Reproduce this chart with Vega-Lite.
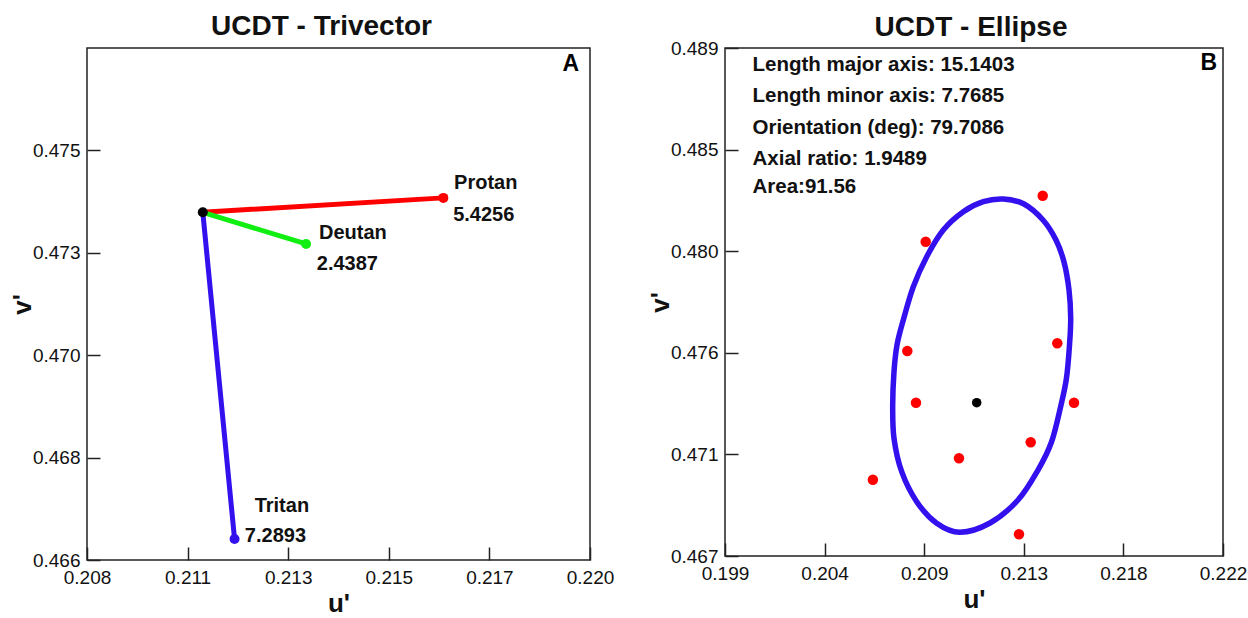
{
  "$schema": "https://vega.github.io/schema/vega-lite/v6.json",
  "background": "white",
  "padding": {"left": 8, "top": 12, "right": 5, "bottom": 0},
  "bounds": "flush",
  "spacing": 135,
  "config": {
    "font": "Liberation Sans",
    "view": {"stroke": "#222", "strokeWidth": 1.5},
    "axis": {
      "grid": false,
      "domain": false,
      "offset": -13,
      "tickColor": "#222",
      "tickWidth": 1.5,
      "tickSize": 13,
      "labelFont": "Liberation Sans",
      "labelFontSize": 19,
      "labelColor": "#111",
      "titleFont": "Liberation Sans",
      "titleFontSize": 26,
      "titleFontWeight": "bold",
      "titleColor": "#111",
      "labelOverlap": false,
      "labelFlush": false,
      "labelBound": false
    },
    "axisX": {"labelPadding": 8, "titlePadding": 3},
    "axisY": {"labelPadding": 7, "titlePadding": -3},
    "title": {"fontSize": 28, "fontWeight": "bold", "font": "Liberation Sans", "color": "#111", "offset": 7}
  },
  "datasets": {
    "centerA": [{"u": 0.21099, "v": 0.47347}],
    "vectors": [
      {"type": "Protan", "u0": 0.21099, "v0": 0.47347, "u1": 0.21637, "v1": 0.47378},
      {"type": "Deutan", "u0": 0.21099, "v0": 0.47347, "u1": 0.21330, "v1": 0.47279},
      {"type": "Tritan", "u0": 0.21099, "v0": 0.47347, "u1": 0.21170, "v1": 0.46645}
    ],
    "labelsA": [
      {"t": "Protan", "u": 0.21661, "v": 0.47409},
      {"t": "5.4256", "u": 0.21659, "v": 0.47342},
      {"t": "Deutan", "u": 0.21359, "v": 0.47302},
      {"t": "2.4387", "u": 0.21354, "v": 0.47235},
      {"t": "Tritan", "u": 0.21215, "v": 0.46717},
      {"t": "7.2893", "u": 0.21193, "v": 0.46651}
    ],
    "cornerA": [{"t": "A", "u": 0.21922, "v": 0.47666}],
    "cornerB": [{"t": "B", "u": 0.22134, "v": 0.48835}],
    "ellipse": [
      {"i": 1, "u": 0.210930, "v": 0.482344},
      {"i": 2, "u": 0.211853, "v": 0.482461},
      {"i": 3, "u": 0.212809, "v": 0.482244},
      {"i": 4, "u": 0.213687, "v": 0.481551},
      {"i": 5, "u": 0.214287, "v": 0.480685},
      {"i": 6, "u": 0.214657, "v": 0.479732},
      {"i": 7, "u": 0.214888, "v": 0.478520},
      {"i": 8, "u": 0.214966, "v": 0.477307},
      {"i": 9, "u": 0.214911, "v": 0.476138},
      {"i": 10, "u": 0.214772, "v": 0.474709},
      {"i": 11, "u": 0.214518, "v": 0.473539},
      {"i": 12, "u": 0.214079, "v": 0.471937},
      {"i": 13, "u": 0.213456, "v": 0.470724},
      {"i": 14, "u": 0.212532, "v": 0.469425},
      {"i": 15, "u": 0.211239, "v": 0.468429},
      {"i": 16, "u": 0.209853, "v": 0.468026},
      {"i": 17, "u": 0.208777, "v": 0.468416},
      {"i": 18, "u": 0.207854, "v": 0.469352},
      {"i": 19, "u": 0.207161, "v": 0.470651},
      {"i": 20, "u": 0.206805, "v": 0.472097},
      {"i": 21, "u": 0.206745, "v": 0.473539},
      {"i": 22, "u": 0.206805, "v": 0.474982},
      {"i": 23, "u": 0.206944, "v": 0.476138},
      {"i": 24, "u": 0.207235, "v": 0.477220},
      {"i": 25, "u": 0.207697, "v": 0.478663},
      {"i": 26, "u": 0.208316, "v": 0.479962},
      {"i": 27, "u": 0.209082, "v": 0.481118},
      {"i": 28, "u": 0.210006, "v": 0.481911}
    ],
    "redpts": [
      {"u": 0.213673, "v": 0.482604},
      {"u": 0.208269, "v": 0.480611},
      {"u": 0.207420, "v": 0.475878},
      {"u": 0.214347, "v": 0.476211},
      {"u": 0.207821, "v": 0.473639},
      {"u": 0.215119, "v": 0.473639},
      {"u": 0.213119, "v": 0.471924},
      {"u": 0.209807, "v": 0.471231},
      {"u": 0.205830, "v": 0.470300},
      {"u": 0.212578, "v": 0.467940}
    ],
    "centerB": [{"u": 0.210625, "v": 0.473639}],
    "infoB": [
      {"t": "Length major axis: 15.1403", "u": 0.20027, "v": 0.48827},
      {"t": "Length minor axis: 7.7685", "u": 0.20027, "v": 0.48690},
      {"t": "Orientation (deg): 79.7086", "u": 0.20027, "v": 0.48553},
      {"t": "Axial ratio: 1.9489", "u": 0.20027, "v": 0.48420},
      {"t": "Area:91.56", "u": 0.20027, "v": 0.48300}
    ]
  },
  "hconcat": [
    {
      "width": 503,
      "height": 512,
      "title": {"text": "UCDT - Trivector", "dx": -17},
      "encoding": {
        "x": {"type": "quantitative", "scale": {"domain": [0.2084, 0.21965], "nice": false, "zero": false},
              "axis": {"values": [0.2084, 0.21065, 0.2129, 0.21515, 0.2174, 0.21965], "format": ".3f", "title": "u'"}},
        "y": {"type": "quantitative", "scale": {"domain": [0.466, 0.477], "nice": false, "zero": false},
              "axis": {"values": [0.466, 0.4682, 0.4704, 0.4726, 0.4748], "format": ".3f", "title": "v'"}}
      },
      "layer": [
        {
          "data": {"name": "vectors"},
          "mark": {"type": "rule", "strokeWidth": 5, "strokeCap": "round"},
          "encoding": {
            "x": {"field": "u0", "type": "quantitative"},
            "y": {"field": "v0", "type": "quantitative"},
            "x2": {"field": "u1"},
            "y2": {"field": "v1"},
            "color": {"field": "type", "type": "nominal", "scale": {"domain": ["Protan", "Deutan", "Tritan"], "range": ["#ff0000", "#11ee11", "#3311ee"]}, "legend": null}
          }
        },
        {
          "data": {"name": "vectors"},
          "mark": {"type": "circle", "size": 100, "opacity": 1},
          "encoding": {
            "x": {"field": "u1", "type": "quantitative"},
            "y": {"field": "v1", "type": "quantitative"},
            "color": {"field": "type", "type": "nominal", "legend": null}
          }
        },
        {
          "data": {"name": "centerA"},
          "mark": {"type": "circle", "size": 100, "opacity": 1, "color": "#000"},
          "encoding": {
            "x": {"field": "u", "type": "quantitative"},
            "y": {"field": "v", "type": "quantitative"}
          }
        },
        {
          "data": {"name": "labelsA"},
          "mark": {"type": "text", "align": "left", "baseline": "middle", "fontSize": 20, "fontWeight": "bold", "color": "#111"},
          "encoding": {
            "x": {"field": "u", "type": "quantitative"},
            "y": {"field": "v", "type": "quantitative"},
            "text": {"field": "t"}
          }
        },
        {
          "data": {"name": "cornerA"},
          "mark": {"type": "text", "align": "center", "baseline": "middle", "fontSize": 23, "fontWeight": "bold", "color": "#000"},
          "encoding": {
            "x": {"field": "u", "type": "quantitative"},
            "y": {"field": "v", "type": "quantitative"},
            "text": {"field": "t"}
          }
        }
      ]
    },
    {
      "width": 498,
      "height": 508,
      "title": {"text": "UCDT - Ellipse", "dx": -3, "offset": -3},
      "encoding": {
        "x": {"type": "quantitative", "scale": {"domain": [0.199, 0.222], "nice": false, "zero": false},
              "axis": {"values": [0.199, 0.2036, 0.2082, 0.2128, 0.2174, 0.222], "labelExpr": "datum.value < 0.2 ? '0.199' : datum.value < 0.205 ? '0.204' : datum.value < 0.21 ? '0.209' : datum.value < 0.215 ? '0.213' : datum.value < 0.22 ? '0.218' : '0.222'", "title": "u'"}},
        "y": {"type": "quantitative", "scale": {"domain": [0.467, 0.489], "nice": false, "zero": false},
              "axis": {"values": [0.467, 0.4714, 0.4758, 0.4802, 0.4846, 0.489], "format": ".3f", "title": "v'"}}
      },
      "layer": [
        {
          "data": {"name": "ellipse"},
          "mark": {"type": "line", "interpolate": "cardinal-closed", "strokeWidth": 5.5, "color": "#3311ee"},
          "encoding": {
            "x": {"field": "u", "type": "quantitative"},
            "y": {"field": "v", "type": "quantitative"},
            "order": {"field": "i", "type": "quantitative"}
          }
        },
        {
          "data": {"name": "redpts"},
          "mark": {"type": "circle", "size": 110, "opacity": 1, "color": "#ff0000"},
          "encoding": {
            "x": {"field": "u", "type": "quantitative"},
            "y": {"field": "v", "type": "quantitative"}
          }
        },
        {
          "data": {"name": "centerB"},
          "mark": {"type": "circle", "size": 90, "opacity": 1, "color": "#000"},
          "encoding": {
            "x": {"field": "u", "type": "quantitative"},
            "y": {"field": "v", "type": "quantitative"}
          }
        },
        {
          "data": {"name": "infoB"},
          "mark": {"type": "text", "align": "left", "baseline": "middle", "fontSize": 20.5, "fontWeight": "bold", "color": "#111"},
          "encoding": {
            "x": {"field": "u", "type": "quantitative"},
            "y": {"field": "v", "type": "quantitative"},
            "text": {"field": "t"}
          }
        },
        {
          "data": {"name": "cornerB"},
          "mark": {"type": "text", "align": "center", "baseline": "middle", "fontSize": 23, "fontWeight": "bold", "color": "#000"},
          "encoding": {
            "x": {"field": "u", "type": "quantitative"},
            "y": {"field": "v", "type": "quantitative"},
            "text": {"field": "t"}
          }
        }
      ]
    }
  ]
}
